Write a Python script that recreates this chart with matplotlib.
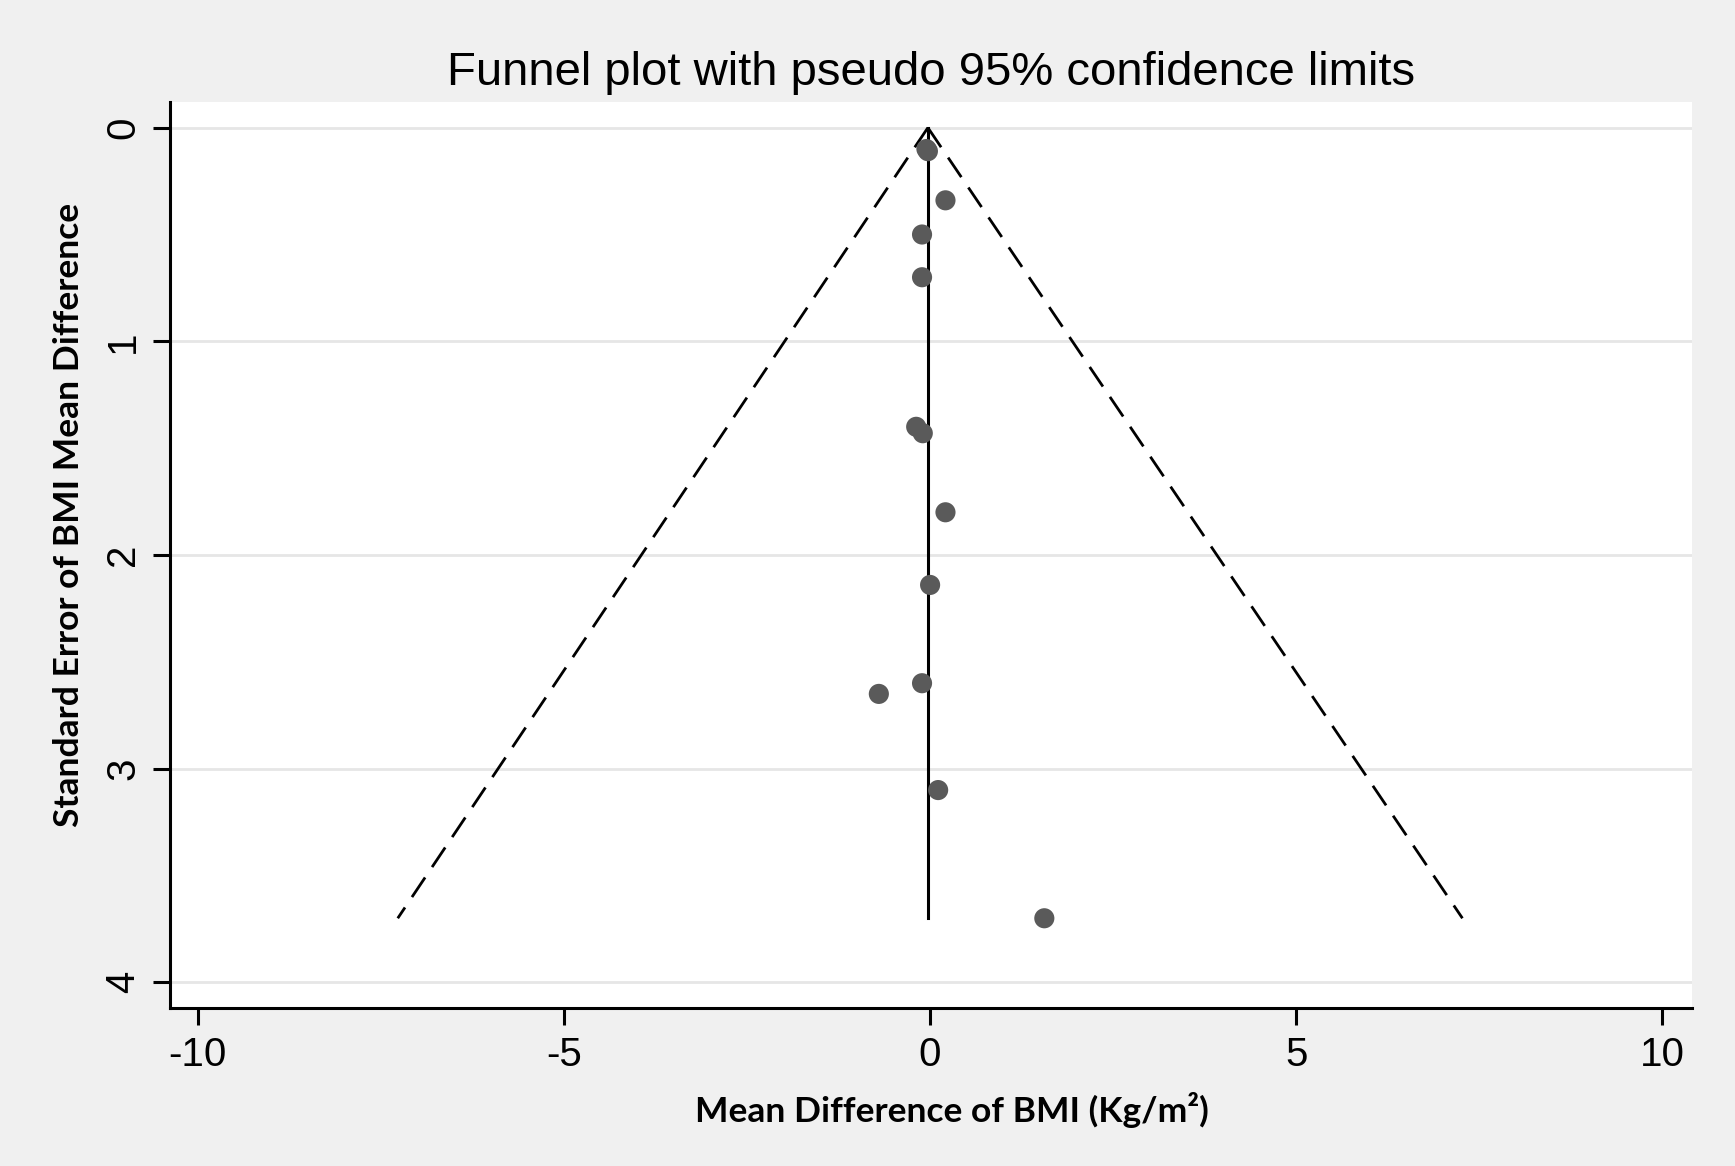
import matplotlib
matplotlib.use("Agg")
import matplotlib.pyplot as plt

plt.rcParams['axes.unicode_minus'] = False
plt.rcParams['font.family'] = ['Liberation Sans', 'DejaVu Sans']

# study estimates (mean difference) and their standard errors
md = [-0.05, -0.03, 0.21, -0.11, -0.11, -0.19, -0.10, 0.21, 0.00, -0.70, -0.11, 0.11, 1.56]
se = [0.10, 0.11, 0.34, 0.50, 0.70, 1.40, 1.43, 1.80, 2.14, 2.65, 2.60, 3.10, 3.70]

# pooled estimate line and pseudo 95% limits
pooled_x = [-0.03, -0.03]
pooled_se = [0.0, 3.70]
lim_se = [0.0, 3.70]
lim_lower = [-0.03, -7.27]
lim_upper = [-0.03, 7.27]

xticks = [-10, -5, 0, 5, 10]
yticks = [0, 1, 2, 3, 4]

fig = plt.figure(figsize=(17.35, 11.66), dpi=100, facecolor='#f0f0f0')
ax = fig.add_axes([0.098, 0.1355, 0.877, 0.777])
ax.set_facecolor('white')

ax.grid(True, axis='y', color='#e6e6e6', linewidth=2, zorder=0)
ax.set_axisbelow(True)

ax.plot(lim_lower, lim_se, color='black', linewidth=2.0, linestyle=(0, (8.5, 4.5)), zorder=2)
ax.plot(lim_upper, lim_se, color='black', linewidth=2.0, linestyle=(0, (8.5, 4.5)), zorder=2)
ax.plot(pooled_x, pooled_se, color='black', linewidth=2.2, zorder=3)
ax.scatter(md, se, s=210, color='#5a5a5a', edgecolors='none', zorder=4)

ax.set_xlim(-10.38, 10.4)
ax.set_ylim(4.12, -0.12)
ax.set_xticks(xticks)
ax.set_yticks(yticks)

for side in ['top', 'right']:
    ax.spines[side].set_visible(False)
for side in ['left', 'bottom']:
    ax.spines[side].set_linewidth(2.2)

ax.tick_params(axis='both', length=12, width=2.2, labelsize=29, pad=8)
ax.tick_params(axis='y', labelrotation=90)
for lab in ax.get_yticklabels():
    lab.set_verticalalignment('center')

ax.set_title('Funnel plot with pseudo 95% confidence limits', fontsize=34, pad=12)
ax.set_xlabel('Mean Difference of BMI (Kg/m²)', fontsize=25.5, fontweight='bold',
              family=['Lato', 'DejaVu Sans'])
ax.set_ylabel('Standard Error of BMI Mean Difference', fontsize=25.5, fontweight='bold',
              family=['Lato', 'DejaVu Sans'])
ax.xaxis.label.set_va('center')
ax.yaxis.label.set_va('center')
ax.xaxis.set_label_coords(0.514, -0.1126)
ax.yaxis.set_label_coords(-0.0666, 0.5447)

fig.savefig('out.png', dpi=100, facecolor=fig.get_facecolor())
